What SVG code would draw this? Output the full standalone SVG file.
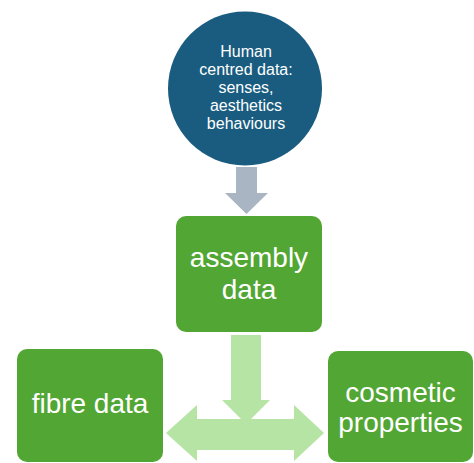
<svg xmlns="http://www.w3.org/2000/svg" width="474" height="463" viewBox="0 0 474 463">
  <style>
    .box { fill: #52A634; }
    .label { fill: #ffffff; font-family: "Liberation Sans", Arial, sans-serif; text-anchor: middle; }
    .big { font-size: 28px; }
    .small { font-size: 16px; }
  </style>
  <rect width="474" height="463" fill="#ffffff"/>

  <g id="connectors">
    <!-- grey arrow from the circle down to assembly data -->
    <polygon points="236,167 257,167 257,193 268,193 246.5,214 225,193 236,193" fill="#A9B5C2"/>
    <!-- light green T-shaped split arrow -->
    <g fill="#B5E4A5">
      <polygon points="231,335 261,335 261,400 270,400 246,424 222,400 231,400"/>
      <polygon points="166,433 197,405 197,419 294,419 294,405 324,433 294,461 294,450 197,450 197,461"/>
    </g>
  </g>

  <g id="human-data">
    <circle cx="245" cy="88.5" r="77" fill="#195C7F"/>
    <text class="label small" x="246" y="57">Human</text>
    <text class="label small" x="246" y="75">centred data:</text>
    <text class="label small" x="246" y="93">senses,</text>
    <text class="label small" x="246" y="111">aesthetics</text>
    <text class="label small" x="246" y="129">behaviours</text>
  </g>

  <g id="assembly-data">
    <rect class="box" x="176" y="216" width="146" height="116" rx="10"/>
    <text class="label big" x="249" y="267">assembly</text>
    <text class="label big" x="249" y="299">data</text>
  </g>

  <g id="fibre-data">
    <rect class="box" x="17" y="349" width="146" height="113" rx="10"/>
    <text class="label big" x="90" y="413">fibre data</text>
  </g>

  <g id="cosmetic-properties">
    <rect class="box" x="328" y="351" width="145" height="111" rx="10"/>
    <text class="label big" x="400.5" y="402">cosmetic</text>
    <text class="label big" x="400.5" y="432">properties</text>
  </g>
</svg>
